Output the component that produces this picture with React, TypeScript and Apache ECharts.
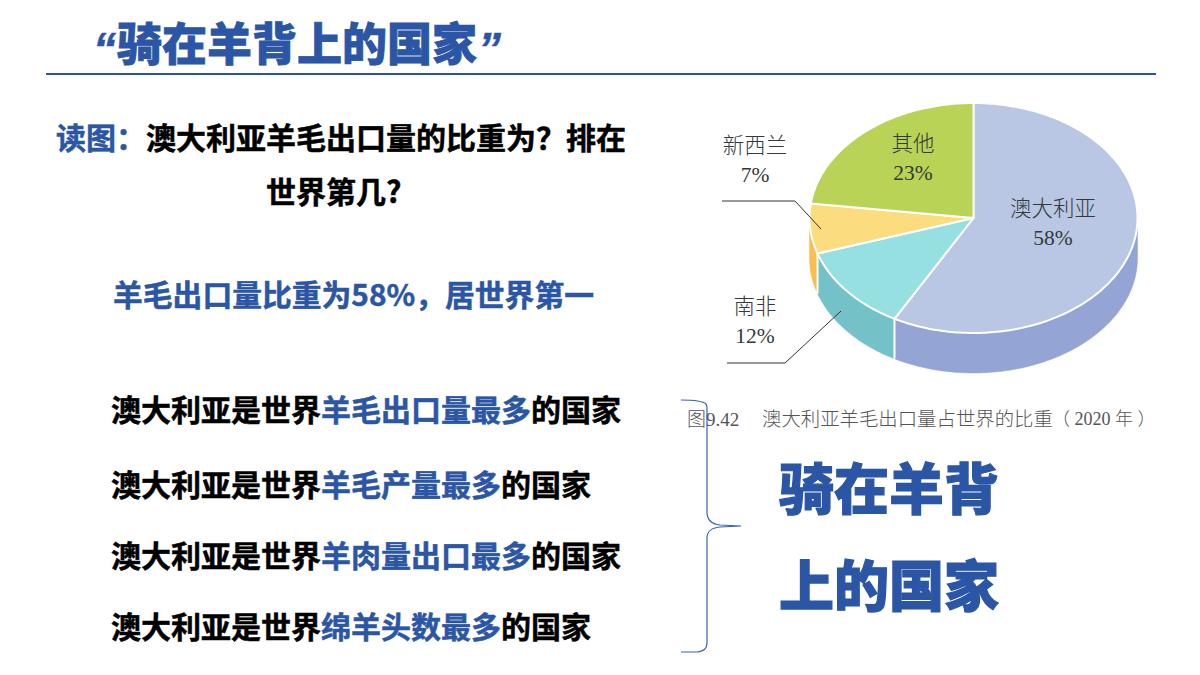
import React, { useEffect, useRef } from "react";
import * as echarts from "echarts";

// ---- data ----
const sliceNames = ["澳大利亚", "南非", "新西兰", "其他"];
const sliceValues = [58, 12, 7, 23];
const topColors = ["#B9C6E4", "#97E0E2", "#FBDC7E", "#B8D355"];
const sideColors = ["#94A5D5", "#74C2C8", "#F9BE50", "#A5C050"];

const titleText = "骑在羊背上的国家";
const promptLabel = "读图：";
const promptLine1 = "澳大利亚羊毛出口量的比重为？排在";
const promptLine2 = "世界第几?";
const answerText = "羊毛出口量比重为58%，居世界第一";
const listPrefix = "澳大利亚是世界";
const listHighlights = ["羊毛出口量最多", "羊毛产量最多", "羊肉量出口最多", "绵羊头数最多"];
const listSuffix = "的国家";
const bigLine1 = "骑在羊背";
const bigLine2 = "上的国家";
const captionFig = "图9.42";
const captionMain = "澳大利亚羊毛出口量占世界的比重";
const captionYear = "（ 2020 年 ）";

// ---- layout ----
const PIE = { cx: 973.5, cy: 218, rx: 164, ry: 115, depth: 40 };
const labelPos = [
  { x: 1053, y: 209 },
  { x: 755, y: 307 },
  { x: 755, y: 146 },
  { x: 913, y: 144 },
];
const labelLineGap = 29;
const BLUE = "#2B55A5";
const CJK = '"Noto Sans CJK SC", "Noto Sans", sans-serif';
const SERIF = '"Liberation Serif", "Noto Sans CJK SC", serif';

const bracePath =
  "M681 400 C692 400 703 401 706 404 C707 405 707 407 707 410 L707 512 C707 520 711 524 720 525 L741 526 L720 527 C711 528 707 531 707 538 L707 642 C707 649 704 651 697 652 L681 652";
echarts.graphic.registerShape("brace", echarts.graphic.extendPath(bracePath, {}));

function pt(deg: number, drop = 0): number[] {
  const t = (deg * Math.PI) / 180;
  return [PIE.cx + PIE.rx * Math.sin(t), PIE.cy - PIE.ry * Math.cos(t) + drop];
}

function arc(a: number, b: number, drop = 0): number[][] {
  const out: number[][] = [];
  const n = Math.max(2, Math.ceil(Math.abs(b - a)));
  for (let i = 0; i <= n; i++) out.push(pt(a + ((b - a) * i) / n, drop));
  return out;
}

function sliceAngles(i: number): [number, number] {
  const total = sliceValues.reduce((s, v) => s + v, 0);
  const before = sliceValues.slice(0, i).reduce((s, v) => s + v, 0);
  return [(before / total) * 360, ((before + sliceValues[i]) / total) * 360];
}

function renderSide(params: any, api: any) {
  const i = params.dataIndex;
  api.value(0);
  const [a, b] = sliceAngles(i);
  const from = Math.max(a, 90);
  const to = Math.min(b, 270);
  if (to <= from) return { type: "group", children: [] };
  const top = arc(from, to);
  const bottom = arc(to, from, PIE.depth);
  const children: any[] = [
    {
      type: "polygon",
      shape: { points: top.concat(bottom) },
      style: { fill: sideColors[i], stroke: sideColors[i], lineWidth: 0.5 },
    },
  ];
  return { type: "group", children };
}

function renderDivider(params: any, api: any) {
  const i = params.dataIndex;
  api.value(0);
  const [a] = sliceAngles(i);
  if (a <= 90 || a >= 270) return { type: "group", children: [] };
  const p = pt(a);
  const q = pt(a, PIE.depth);
  return {
    type: "line",
    shape: { x1: p[0], y1: p[1], x2: q[0], y2: q[1] },
    style: { stroke: "#ffffff", lineWidth: 2 },
  };
}

function renderTop(params: any, api: any) {
  const i = params.dataIndex;
  api.value(0);
  const [a, b] = sliceAngles(i);
  const points = [[PIE.cx, PIE.cy], ...arc(a, b)];
  return {
    type: "polygon",
    shape: { points },
    style: { fill: topColors[i], stroke: "#ffffff", lineWidth: 2, lineJoin: "round" },
  };
}

function renderLabel(params: any, api: any) {
  const i = params.dataIndex;
  const v = api.value(0);
  const color = "#333a38";
  const base = { textAlign: "center", textVerticalAlign: "middle", fill: color, fontFamily: SERIF, fontSize: 21.5 };
  return {
    type: "group",
    children: [
      { type: "text", style: { ...base, text: sliceNames[i], x: labelPos[i].x, y: labelPos[i].y, fontWeight: 300 } },
      { type: "text", style: { ...base, text: `${v}%`, x: labelPos[i].x, y: labelPos[i].y + labelLineGap } },
    ],
  };
}

function txt(text: string, x: number, y: number, size: number, fill: string, extra: any = {}) {
  return {
    type: "text",
    silent: true,
    style: {
      text,
      x,
      y,
      fill,
      stroke: fill,
      lineWidth: 0.5,
      fontSize: size,
      fontFamily: CJK,
      fontWeight: 700,
      textAlign: "left",
      textVerticalAlign: "middle",
      ...extra,
    },
  };
}

const listRows = [407.5, 482.5, 553.5, 624.5];

function buildGraphic() {
  const els: any[] = [];
  const heavy = (w: number) => ({ fontWeight: 900, lineWidth: w });
  const quote = { fontFamily: '"Liberation Sans", sans-serif', fontStyle: "italic" };
  els.push(txt("“", 93, 49, 46, BLUE, quote));
  els.push(txt(titleText, 117, 41, 45, BLUE, heavy(0.8)));
  els.push(txt("”", 478, 49, 46, BLUE, quote));
  els.push({
    type: "line",
    shape: { x1: 46, y1: 74, x2: 1156, y2: 74 },
    style: { stroke: "#2B53A0", lineWidth: 2 },
  });
  els.push(txt(promptLabel, 56, 135.5, 30, BLUE));
  els.push(txt(promptLine1, 146, 135.5, 30, "#000000"));
  els.push(txt(promptLine2, 266, 189.5, 30, "#000000"));
  els.push(txt(answerText, 113, 292.5, 29.8, BLUE));
  listHighlights.forEach((h, i) => {
    const y = listRows[i];
    const x1 = 111 + listPrefix.length * 30;
    const x2 = x1 + h.length * 30;
    els.push(txt(listPrefix, 111, y, 30, "#000000"));
    els.push(txt(h, x1, y, 30, BLUE));
    els.push(txt(listSuffix, x2, y, 30, "#000000"));
  });
  els.push(txt(bigLine1, 779, 485, 55, BLUE, heavy(1.2)));
  els.push(txt(bigLine2, 779, 582, 55, BLUE, heavy(1.2)));
  const cap = { fontFamily: SERIF, fontWeight: 300, stroke: null, lineWidth: 0 };
  els.push(txt(captionFig, 687, 419, 19, "#555555", cap));
  els.push(txt(captionMain, 762, 419, 19.4, "#555555", cap));
  els.push(txt(captionYear, 1052, 419, 18, "#555555", cap));
  // leader lines
  els.push({
    type: "polyline",
    shape: { points: [[722, 201], [795, 201], [821, 229]] },
    style: { stroke: "#333333", lineWidth: 1, fill: "none" },
    z: 20,
  });
  els.push({
    type: "polyline",
    shape: { points: [[727, 363], [785, 363], [841, 311]] },
    style: { stroke: "#333333", lineWidth: 1, fill: "none" },
    z: 20,
  });
  els.push({
    type: "brace",
    x: 0,
    y: 0,
    style: { stroke: "#3A62AE", lineWidth: 1.2, fill: "none" },
    z: 20,
  });
  return els;
}

export default function App() {
  const ref = useRef<HTMLDivElement>(null);
  useEffect(() => {
    const chart = echarts.init(ref.current!, undefined, { renderer: "svg" });
    const data = sliceValues.map((v, i) => ({ name: sliceNames[i], value: [v] }));
    const mk = (renderItem: any, z: number) => ({
      type: "custom",
      coordinateSystem: "none",
      renderItem,
      data,
      z,
      silent: true,
    });
    chart.setOption({
      animation: false,
      backgroundColor: "#ffffff",
      series: [mk(renderSide, 2), mk(renderDivider, 3), mk(renderTop, 4), mk(renderLabel, 5)],
      graphic: buildGraphic(),
    });
    return () => chart.dispose();
  }, []);
  return <div ref={ref} style={{ position: "fixed", left: 0, top: 0, width: 1200, height: 675 }} />;
}
